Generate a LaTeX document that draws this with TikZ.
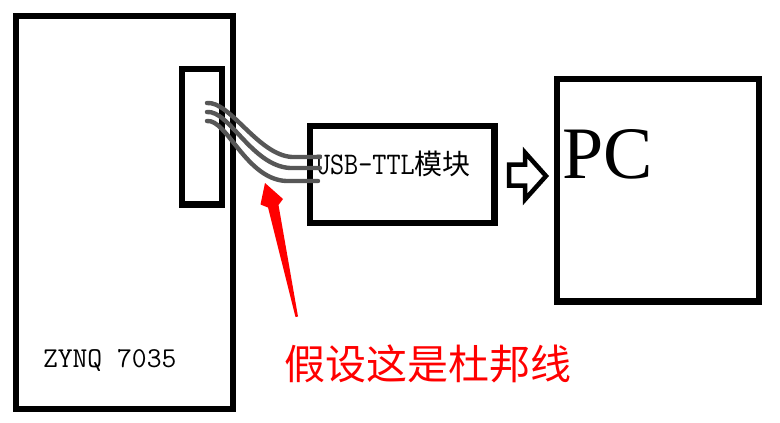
\documentclass[tikz,border=0pt]{standalone}
\usepackage{fontspec}
\newfontfamily\cjkfont{Noto Sans CJK SC}
\newfontfamily\pcfont{Liberation Serif}
\usepackage{graphicx}
\begin{document}
\begin{tikzpicture}[x=1pt,y=-1pt,
  box/.style={draw=black,line width=6.3pt,rectangle,inner sep=0pt,outer sep=0pt},
  cable/.style={draw=black!66,line width=4.4pt,line cap=round},
  lbl/.style={inner sep=0pt,outer sep=0pt}]
\useasboundingbox (0,0) rectangle (780,423);
\fill[white] (0,0) rectangle (780,423);
% boxes
\node[box,minimum width=217pt,minimum height=393pt] (zynq) at (124.5,212.5) {};
\node[box,minimum width=40.3pt,minimum height=135.5pt] (port) at (201.85,136.75) {};
\node[box,minimum width=184.5pt,minimum height=97pt] (usb) at (402.25,174.5) {};
\node[box,minimum width=202pt,minimum height=222.5pt] (pc) at (658,190.25) {};
% labels
\node[lbl,anchor=base west] (zlab) at (43,367) {\fontsize{28.8}{30}\selectfont\ttfamily ZYNQ 7035};
\node[lbl,anchor=base west] (ulab) at (316,174) {\scalebox{1}[1.15]{\fontsize{27.4}{30}\selectfont\ttfamily USB-TTL}\fontsize{28}{30}\cjkfont 模块};
\node[lbl,anchor=base west] (pclab) at (562,178) {\fontsize{74}{80}\pcfont PC};
\node[lbl,anchor=base west,text=red] (note) at (284,379) {\fontsize{41}{45}\cjkfont 假设这是杜邦线};
% cable (Dupont wires)
\coordinate (w1s) at (207,103); \coordinate (w1e) at (320,157);
\coordinate (w2s) at (207,112); \coordinate (w2e) at (320,168);
\coordinate (w3s) at (207,121); \coordinate (w3e) at (318,181);
\draw[cable] (w1s) .. controls (230,101) and (258,155) .. (292,157) -- (w1e);
\draw[cable] (w2s) .. controls (229,110) and (252,166) .. (290,168) -- (w2e);
\draw[cable] (w3s) .. controls (227,119) and (246,179) .. (286,181) -- (w3e);
% hollow block arrow USB -> PC
\draw[line width=4.5pt,line join=miter] (509,164.5) -- (525,164.5) -- (525,152.5) -- (546,176) -- (525,199.5) -- (525,185.5) -- (509,185.5) -- cycle;
% red pointer arrow
\fill[red,line join=round] (265,183) -- (283,199) -- (278.5,205) -- (298,316.5) -- (295.5,317) -- (268,207.5) -- (260.5,204.5) -- cycle;
\end{tikzpicture}
\end{document}
